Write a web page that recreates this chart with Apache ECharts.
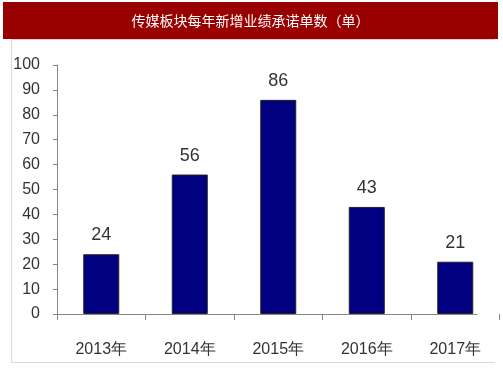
<!DOCTYPE html>
<html>
<head>
<meta charset="utf-8">
<script src="https://cdn.jsdelivr.net/npm/echarts@6/dist/echarts.min.js"></script>
<style>
html,body{margin:0;padding:0;background:#fff;}
#main{width:503px;height:379px;}
</style>
</head>
<body>
<div id="main"></div>
<script>
const titleText = '传媒板块每年新增业绩承诺单数（单）';
const categories = ['2013年', '2014年', '2015年', '2016年', '2017年'];
const values = [24, 56, 86, 43, 21];
const yMin = 0, yMax = 100, yInterval = 10;

const numFont = '"Liberation Sans Narrow", "Arial Narrow", "Liberation Sans", sans-serif';
const chart = echarts.init(document.getElementById('main'), null, {renderer: 'canvas'});
chart.setOption({
  animation: false,
  backgroundColor: '#fff',
  graphic: [
    {type: 'line', shape: {x1: 11.5, y1: 39, x2: 11.5, y2: 363}, style: {stroke: '#d9d9d9', lineWidth: 1}, z: 0},
    {type: 'line', shape: {x1: 11, y1: 362.5, x2: 495, y2: 362.5}, style: {stroke: '#d9d9d9', lineWidth: 1}, z: 0},
    {type: 'line', shape: {x1: 11, y1: 39.5, x2: 495, y2: 39.5}, style: {stroke: '#e8d0d0', lineWidth: 1}, z: 0},
    {type: 'rect', shape: {x: 3, y: 2, width: 495, height: 37}, style: {fill: '#990000'}, z: 1},
    {type: 'text', x: 250.5, y: 21, z: 2,
     style: {text: titleText, fill: '#ffffff', font: '14px "Noto Sans CJK SC", sans-serif', align: 'center', verticalAlign: 'middle'}}
  ],
  grid: [
    {left: 57, right: 3.5, top: 65, bottom: 65, containLabel: false},
    {left: 57, right: 26, top: 65, bottom: 65, containLabel: false}
  ],
  xAxis: [
    {
      type: 'category', gridIndex: 0, data: categories,
      axisLine: {show: false},
      axisTick: {show: true, length: 6, lineStyle: {color: '#868686'}},
      axisLabel: {color: '#333', fontSize: 16, fontFamily: numFont, margin: 28}
    },
    {
      type: 'value', gridIndex: 1, min: 0, max: 1,
      axisLine: {show: true, lineStyle: {color: '#868686', width: 1}},
      axisTick: {show: false}, axisLabel: {show: false}, splitLine: {show: false}
    }
  ],
  yAxis: [
    {
      type: 'value', gridIndex: 0, min: yMin, max: yMax, interval: yInterval,
      axisLine: {show: true, lineStyle: {color: '#868686'}},
      axisTick: {show: true, length: 4, lineStyle: {color: '#868686'}},
      axisLabel: {color: '#333', fontSize: 16, fontFamily: numFont, margin: 17},
      splitLine: {show: false}
    },
    {
      type: 'value', gridIndex: 1, show: false, min: 0, max: 1
    }
  ],
  series: [{
    type: 'bar', xAxisIndex: 0, yAxisIndex: 0,
    data: values,
    barWidth: 36,
    itemStyle: {color: '#000080', borderColor: '#222', borderWidth: 1},
    label: {show: true, position: 'top', distance: 10, color: '#333', fontSize: 18, fontFamily: numFont}
  }]
});
</script>
</body>
</html>
